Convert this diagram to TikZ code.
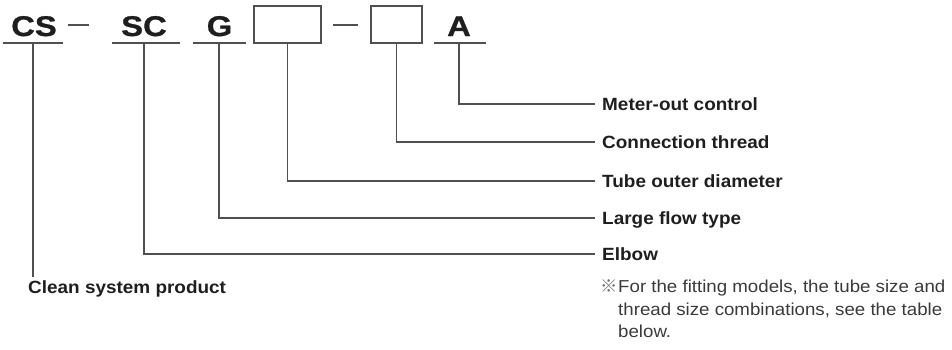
\documentclass[tikz,border=0pt]{standalone}
\usepackage{fontspec}
\setmainfont{Liberation Sans}
\newfontfamily\bigfont[FakeStretch=1.15,FakeBold=0.9]{Liberation Sans}
\newfontfamily\labfont[FakeStretch=1.07]{Liberation Sans}
\newfontfamily\notefont[FakeStretch=1.08]{Liberation Sans}
\newfontfamily\cjk{Noto Sans CJK JP}
\definecolor{txtcol}{HTML}{1E1E1E}
\definecolor{notecol}{HTML}{3A3A3A}
\definecolor{linecol}{HTML}{505050}
\tikzset{
  codetxt/.style={font=\bigfont\bfseries\fontsize{28.5}{28.5}\selectfont, inner sep=0pt, anchor=base, text=txtcol},
  lbl/.style={font=\labfont\bfseries\fontsize{17.7}{20}\selectfont, anchor=west, inner xsep=7pt, inner ysep=0pt, text height=13pt, text depth=0pt, text=txtcol},
  notetxt/.style={font=\notefont\fontsize{17.3}{22.5}\selectfont, anchor=base west, inner sep=0pt, text=notecol},
  leader/.style={draw=linecol, line width=1.5pt},
  ubar/.style={draw=linecol, line width=1.5pt},
  codebox/.style={draw=linecol, line width=1.5pt, inner sep=0pt, minimum width=67pt, minimum height=37pt},
}
\begin{document}
\begin{tikzpicture}[x=1pt,y=-1pt]
\useasboundingbox (0,0) rectangle (952,349);
% code letters
\node[codetxt] (cs) at (34,36) {CS};
\node[codetxt] (sc) at (144,36) {SC};
\node[codetxt] (g) at (219.5,36) {G};
\node[codetxt] (a) at (459,36) {A};
% boxes
\node[codebox] (b1) at (287.5,24.5) {};
\node[codebox, minimum width=51pt] (b2) at (396.5,24.5) {};
% underlines
\coordinate (csl) at (3,43);   \coordinate (csr) at (63,43);   \coordinate (csb) at (33,43);
\coordinate (scl) at (112,43); \coordinate (scr) at (180,43);  \coordinate (scb) at (144,43);
\coordinate (gl) at (193,43);  \coordinate (gr) at (246,43);   \coordinate (gb) at (219,43);
\coordinate (al) at (434,43);  \coordinate (ar) at (486,43);   \coordinate (ab) at (459,43);
\draw[ubar] (csl) -- (csr);
\draw[ubar] (scl) -- (scr);
\draw[ubar] (gl) -- (gr);
\draw[ubar] (al) -- (ar);
% dashes
\coordinate (d1l) at (68,25); \coordinate (d1r) at (89,25);
\coordinate (d2l) at (333,25); \coordinate (d2r) at (358,25);
\draw[ubar] (d1l) -- (d1r);
\draw[ubar] (d2l) -- (d2r);
% labels
\node[lbl] (meter) at (595,104) {Meter-out control};
\node[lbl] (conn) at (595,142) {Connection thread};
\node[lbl] (tube) at (595,181) {Tube outer diameter};
\node[lbl] (large) at (595,218) {Large flow type};
\node[lbl] (elbow) at (595,254) {Elbow};
\node[lbl, anchor=north west, inner xsep=0pt, inner ysep=0pt] (clean) at (28,280) {Clean system product};
% connectors
\draw[leader] (ab) |- (meter.west);
\draw[leader] (b2.south) |- (conn.west);
\draw[leader] (b1.south) |- (tube.west);
\draw[leader] (gb) |- (large.west);
\draw[leader] (scb) |- (elbow.west);
\draw[leader] (csb) -- ([yshift=3pt]csb |- clean.north);
% note
\node[notetxt] (note1) at (618,292) {\llap{\cjk\color{notecol!75}※}For the fitting models, the tube size and};
\node[notetxt] (note2) at (618,315) {thread size combinations, see the table};
\node[notetxt] (note3) at (618,337) {below.};
\end{tikzpicture}
\end{document}
